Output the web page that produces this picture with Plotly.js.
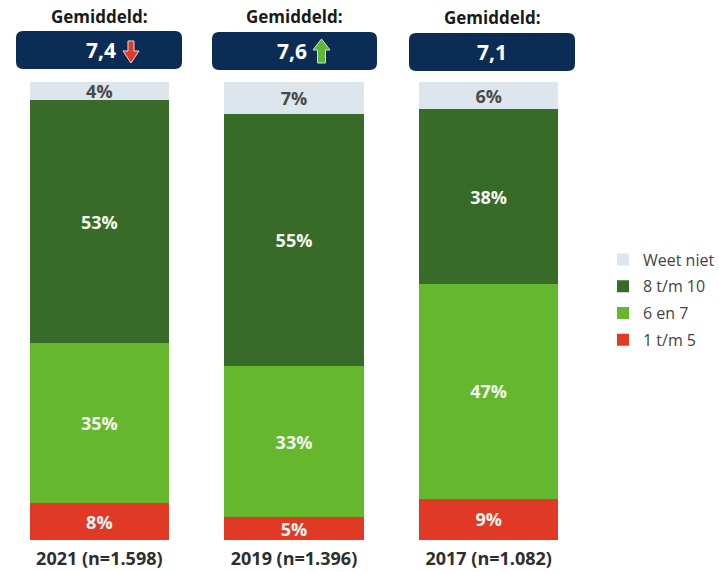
<!DOCTYPE html>
<html>
<head>
<meta charset="utf-8">
<script src="https://cdn.plot.ly/plotly-3.0.1.min.js"></script>
<style>html,body{margin:0;padding:0;background:#fff;}#chart{width:719px;height:572px;}</style>
</head>
<body>
<div id="chart"></div>
<script>
// ---- data ----
const years = ['2021 (n=1.598)', '2019 (n=1.396)', '2017 (n=1.082)'];
const low = [8, 5, 9];        // 1 t/m 5
const mid = [35, 33, 47];     // 6 en 7
const high = [53, 55, 38];    // 8 t/m 10
const unknown = [4, 7, 6];    // Weet niet
const averages = ['7,4', '7,6', '7,1'];
const trends = ['down', 'up', 'none'];

// ---- layout helpers (pixel -> paper) ----
const W = 719, H = 572;
const M = {l: 2, r: 133, t: 82, b: 32};
const PW = W - M.l - M.r, PH = H - M.t - M.b;
const px = x => (x - M.l) / PW;
const py = y => (H - M.b - y) / PH;

function roundRect(x0, y0, x1, y1, r) {
  const X = v => px(v).toFixed(5), Y = v => py(v).toFixed(5);
  return 'M' + X(x0 + r) + ',' + Y(y0) +
    ' L' + X(x1 - r) + ',' + Y(y0) +
    ' Q' + X(x1) + ',' + Y(y0) + ' ' + X(x1) + ',' + Y(y0 + r) +
    ' L' + X(x1) + ',' + Y(y1 - r) +
    ' Q' + X(x1) + ',' + Y(y1) + ' ' + X(x1 - r) + ',' + Y(y1) +
    ' L' + X(x0 + r) + ',' + Y(y1) +
    ' Q' + X(x0) + ',' + Y(y1) + ' ' + X(x0) + ',' + Y(y1 - r) +
    ' L' + X(x0) + ',' + Y(y0 + r) +
    ' Q' + X(x0) + ',' + Y(y0) + ' ' + X(x0 + r) + ',' + Y(y0) + ' Z';
}
function poly(pts) {
  return 'M' + pts.map(p => px(p[0]).toFixed(5) + ',' + py(p[1]).toFixed(5)).join(' L') + ' Z';
}
function downArrow(cx, top, bottom, headY, hw, sw) {
  return poly([[cx - sw, top], [cx + sw, top], [cx + sw, headY], [cx + hw, headY],
               [cx, bottom], [cx - hw, headY], [cx - sw, headY]]);
}
function upArrow(cx, top, bottom, headY, hw, sw) {
  return poly([[cx, top], [cx + hw, headY], [cx + sw, headY], [cx + sw, bottom],
               [cx - sw, bottom], [cx - sw, headY], [cx - hw, headY]]);
}

const FONT = 'Open Sans, Noto Sans, sans-serif';
const pct = a => a.map(v => v + '%');

function barTrace(name, vals, color, textColor, rank) {
  return {
    type: 'bar', name: name, x: years, y: vals,
    marker: {color: color, line: {width: 0}},
    text: pct(vals), textposition: 'inside', insidetextanchor: 'middle',
    textangle: 0, constraintext: 'none',
    textfont: {family: FONT, size: 18, color: textColor, weight: 'bold'},
    hoverinfo: 'skip', legendgroup: name, legendrank: rank
  };
}

const data = [
  barTrace('1 t/m 5', low, '#e03a26', '#f4f7f0', 4),
  barTrace('6 en 7', mid, '#65b82e', '#f4f7f0', 3),
  barTrace('8 t/m 10', high, '#376b27', '#f4f7f0', 2),
  barTrace('Weet niet', unknown, '#dde6ed', '#4a4a4a', 1)
];

// boxes and labels above the bars
const boxes = [
  {x0: 16, x1: 182, y0: 31, y1: 69, gy: 16, tx: 101},
  {x0: 212, x1: 377, y0: 32, y1: 70, gy: 17, tx: 292},
  {x0: 409, x1: 575, y0: 33, y1: 71, gy: 18, tx: 492}
];

const shapes = [], annotations = [];
boxes.forEach((b, i) => {
  shapes.push({type: 'path', xref: 'paper', yref: 'paper', path: roundRect(b.x0, b.y0, b.x1, b.y1, 7),
    fillcolor: '#0b2d55', line: {width: 0}, layer: 'above'});
  annotations.push({xref: 'paper', yref: 'paper', x: px((b.x0 + b.x1) / 2), y: py(b.gy),
    text: 'Gemiddeld:', showarrow: false, xanchor: 'center', yanchor: 'middle',
    font: {family: FONT, size: 17, color: '#1a1a1a', weight: 'bold'}});
  annotations.push({xref: 'paper', yref: 'paper', x: px(b.tx), y: py((b.y0 + b.y1) / 2),
    text: averages[i], showarrow: false, xanchor: 'center', yanchor: 'middle',
    font: {family: FONT, size: 21, color: '#ffffff', weight: 'bold'}});
  if (trends[i] === 'down') {
    shapes.push({type: 'path', xref: 'paper', yref: 'paper', path: downArrow(131, 41, 63, 51, 8, 3),
      fillcolor: '#e03a26', line: {color: '#f3d6d0', width: 1}, layer: 'above'});
  } else if (trends[i] === 'up') {
    shapes.push({type: 'path', xref: 'paper', yref: 'paper', path: upArrow(321.5, 39, 63, 50, 8.5, 4),
      fillcolor: '#5fb832', line: {color: '#cfe8c0', width: 1}, layer: 'above'});
  }
});

const layout = {
  width: W, height: H,
  margin: M,
  barmode: 'stack', bargap: 0.285,
  paper_bgcolor: '#ffffff', plot_bgcolor: '#ffffff',
  font: {family: FONT, color: '#333333'},
  showlegend: true,
  legend: {
    xref: 'container', yref: 'container',
    x: 603 / W, y: 1 - 300 / H, xanchor: 'left', yanchor: 'middle',
    traceorder: 'grouped', tracegroupgap: 3,
    font: {family: FONT, size: 16, color: '#444444'},
    bgcolor: 'rgba(0,0,0,0)'
  },
  xaxis: {
    type: 'category', categoryorder: 'array', categoryarray: years,
    showgrid: false, zeroline: false, showline: false, ticks: '',
    ticklabelstandoff: 6,
    tickfont: {family: FONT, size: 18, color: '#2e2e2e', weight: 'bold'},
    fixedrange: true
  },
  yaxis: {
    range: [0, 100], showgrid: false, zeroline: false, showline: false,
    showticklabels: false, ticks: '', fixedrange: true
  },
  shapes: shapes,
  annotations: annotations
};

Plotly.newPlot('chart', data, layout, {displayModeBar: false, staticPlot: true});
</script>
</body>
</html>
